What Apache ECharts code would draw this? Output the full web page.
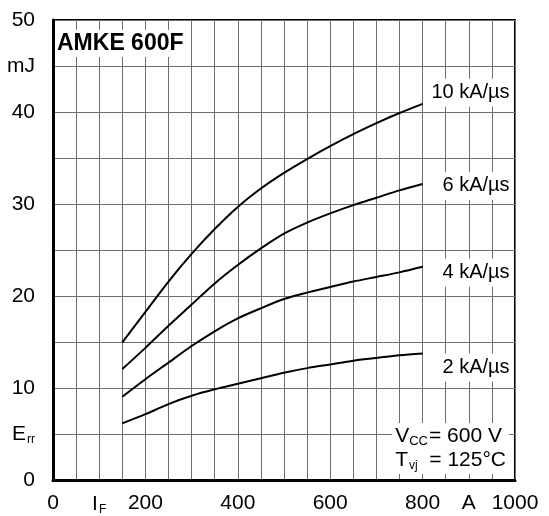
<!DOCTYPE html>
<html><head><meta charset="utf-8">
<script src="https://cdn.jsdelivr.net/npm/echarts@6/dist/echarts.min.js"></script>
<style>html,body{margin:0;padding:0;background:#fff}#c{width:549px;height:516px}</style>
</head><body><div id="c"></div>
<script>
// Data
const currentA = [150,200,250,300,350,400,450,500,550,600,650,700,750,800];
const err10 = [15.0,18.3,21.6,24.6,27.3,29.7,31.7,33.4,34.9,36.3,37.6,38.8,39.9,40.9];
const err6  = [12.1,14.4,16.8,19.1,21.4,23.4,25.2,26.8,28.0,29.0,29.9,30.7,31.5,32.2];
const err4  = [9.1,11.0,12.8,14.6,16.2,17.6,18.7,19.7,20.4,21.0,21.6,22.1,22.6,23.2];
const err2  = [6.2,7.2,8.3,9.2,9.9,10.5,11.1,11.7,12.2,12.6,13.0,13.3,13.6,13.8];
const seriesNames = ['10 kA/µs','6 kA/µs','4 kA/µs','2 kA/µs'];
const xTickValues = [0,100,200,400,600,800,900,1000];
const xTickTexts  = ['0','{n|I}{s|F}','200','400','600','800','A','1000'];
const yTickValues = [0,5,10,20,30,40,45,50];
const yTickTexts  = ['0','{n|E}{s|rr}','10','20','30','40','mJ','50'];
const titleText = 'AMKE 600F';
const condLines = ['{n|V}{c|CC}{n|= 600 V}','{n|T}{s|vj}{n|  = 125°C}'];

const FONT = '"Liberation Sans", Arial, Helvetica, sans-serif';
const chart = echarts.init(document.getElementById('c'), null, {renderer:'canvas'});

function pairs(ys){ return currentA.map((x,i)=>[x,ys[i]]); }
const labelOffsets = [[82,-11],[82,2],[82,6],[82,14]];
const allData = [err10, err6, err4, err2];

const richSub = {
  n: {fontSize: 21, fontFamily: FONT, color: '#000', lineHeight: 24},
  s: {fontSize: 12, fontFamily: FONT, color: '#000', padding: [11,0,0,1]},
  c: {fontSize: 13, fontFamily: FONT, color: '#000', padding: [10,1,0,0]}
};

const series = allData.map((d,i)=>({
  type: 'line',
  name: seriesNames[i],
  data: pairs(d),
  smooth: 0.3,
  symbol: 'none',
  lineStyle: {color: '#000', width: 2},
  endLabel: {
    show: true,
    formatter: seriesNames[i],
    fontSize: 20,
    fontFamily: FONT,
    color: '#000',
    align: 'right',
    offset: labelOffsets[i],
    backgroundColor: '#fff',
    padding: [4,3,4,4]
  },
  z: 3
}));

chart.setOption({
  animation: false,
  backgroundColor: '#fff',
  grid: {left: 53, right: 34, top: 20, bottom: 35, show: true, borderColor: '#000', borderWidth: 2, backgroundColor: 'transparent'},
  xAxis: {
    type: 'value', min: 0, max: 1000, interval: 50,
    axisLine: {show: true, onZero: false, lineStyle: {color: '#000', width: 3}},
    axisTick: {show: false},
    splitLine: {show: true, lineStyle: {color: '#6e6e6e', width: 1}},
    axisLabel: {
      customValues: xTickValues,
      formatter: v => xTickTexts[xTickValues.indexOf(v)] || '',
      fontSize: 21, fontFamily: FONT, color: '#000', margin: 12,
      rich: richSub
    }
  },
  yAxis: {
    type: 'value', min: 0, max: 50, interval: 5,
    axisLine: {show: true, onZero: false, lineStyle: {color: '#000', width: 3}},
    axisTick: {show: false},
    splitLine: {show: true, lineStyle: {color: '#6e6e6e', width: 1}},
    axisLabel: {
      customValues: yTickValues,
      formatter: v => yTickTexts[yTickValues.indexOf(v)] || '',
      fontSize: 21, fontFamily: FONT, color: '#000', margin: 18,
      rich: richSub
    }
  },
  graphic: [
    {type: 'text', left: 56, top: 30, z: 10,
     style: {text: titleText, fontSize: 23, fontWeight: 'bold', fontFamily: FONT, fill: '#000',
             backgroundColor: '#fff', padding: [2,3,2,1]}},
    {type: 'text', right: 40, top: 423, z: 10,
     style: {text: condLines.join('\n'), fontFamily: FONT, fill: '#000', backgroundColor: '#fff',
             padding: [1,3,2,3], rich: richSub}}
  ],
  series: series
});
</script></body></html>
